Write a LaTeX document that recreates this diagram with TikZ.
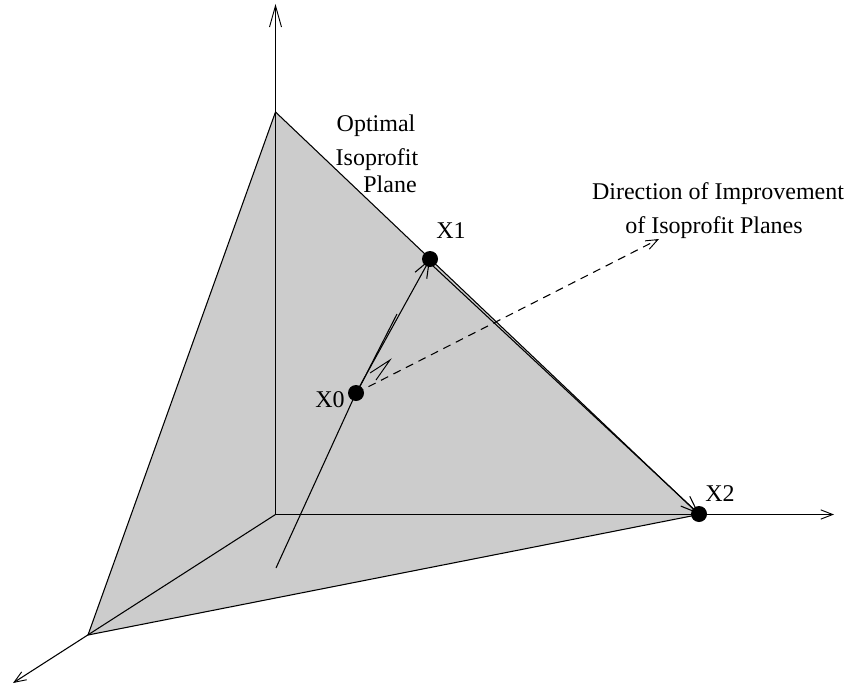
\documentclass[tikz,border=0pt]{standalone}
\usepackage{fontspec}
\setmainfont{Liberation Serif}
\usetikzlibrary{arrows.meta}
\tikzset{
  ln/.style={draw=black,line width=0.8pt},
  open/.style={ln,-{Straight Barb[length=9pt,width=7pt,line width=0.7pt]}},
  wide/.style={ln,-{Straight Barb[length=13pt,width=10pt,line width=0.8pt]}},
  tall/.style={ln,-{Straight Barb[length=16pt,width=9pt,line width=0.7pt]}},
  pt/.style={circle,fill=black,inner sep=0pt,minimum size=12pt},
  lbl/.style={inner sep=0pt,font=\fontsize{18pt}{21pt}\selectfont,text=black}
}
\begin{document}
\begin{tikzpicture}[x=0.75pt,y=-0.75pt]
\useasboundingbox (0,0) rectangle (849,685);
\coordinate (O) at (275.5,514.5);
\coordinate (T) at (275.5,112);
\coordinate (L) at (88,635);
\coordinate (R) at (699,514.5);
\coordinate (Ttip) at (275.5,4);
\coordinate (Ltip) at (13,683);
\coordinate (Rtip) at (834,514.5);
\coordinate (S) at (276,568);
\coordinate (Dtip) at (659,239);
\coordinate (Wa) at (370,373);
\coordinate (Wb) at (390,360);
\coordinate (Wc) at (376,380);
\coordinate (Db) at (397,314);
\fill[black!20] (T) -- (R) -- (L) -- cycle;
\draw[ln] (T) -- (R) -- (L) -- cycle;
\draw[tall] (O) -- (Ttip);
\draw[open] (O) -- (Rtip);
\draw[open] (O) -- (Ltip);
\node[pt] (X0) at (356,393) {};
\node[pt] (X1) at (430,259) {};
\node[pt] (X2) at (699,514) {};
\draw[ln] (S) -- (X0.center);
\draw[wide] (X0.center) -- (X1.center);
\draw[ln] ([xshift=0.7pt,yshift=0.4pt]X0.center) -- (Db);
\draw[wide] ([xshift=-1.6pt,yshift=-1.6pt]X1.center) -- (X2.center);
\draw[ln,dash pattern=on 6pt off 4.5pt,-{Straight Barb[length=9pt,width=7pt,line width=0.7pt]}] (X0.center) -- (Dtip);
\draw[ln,line width=0.7pt] (Wa) -- (Wb) -- (Wc);
\node[lbl,anchor=base] (t1) at (376,131) {Optimal};
\node[lbl,anchor=base] (t2) at (377,165) {Isoprofit};
\node[lbl,anchor=base] (t3) at (390,192) {Plane};
\node[lbl,anchor=base] (t4) at (718,199) {Direction of Improvement};
\node[lbl,anchor=base] (t5) at (714,233) {of Isoprofit Planes};
\node[lbl,anchor=base] (t6) at (451,238) {X1};
\node[lbl,anchor=base] (t7) at (330,407) {X0};
\node[lbl,anchor=base] (t8) at (720,501) {X2};
\end{tikzpicture}
\end{document}
